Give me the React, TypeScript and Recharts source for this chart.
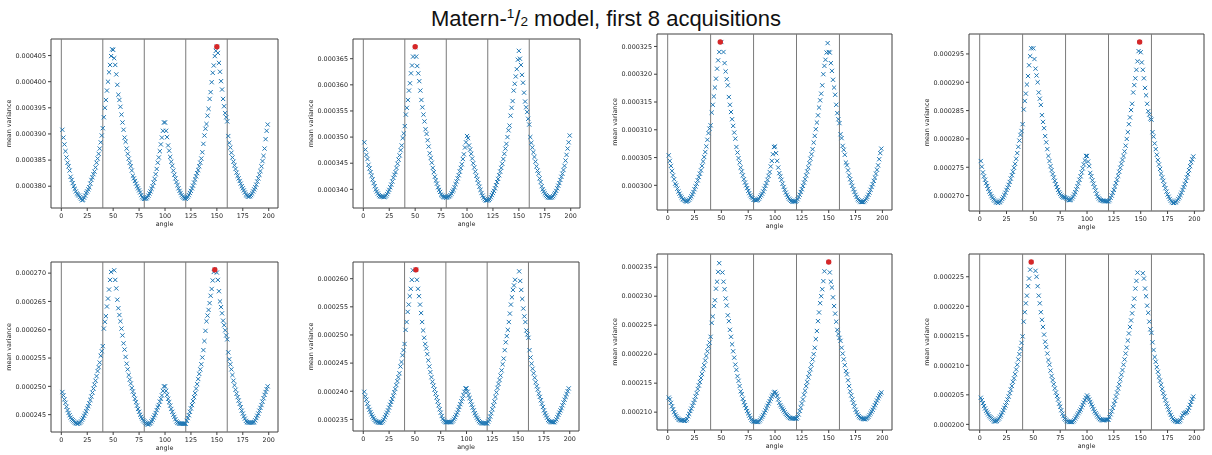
import { ScatterChart, Scatter, XAxis, YAxis, ReferenceLine, ReferenceArea } from 'recharts'

// angle grid shared by all eight panels
const ANGLES = [
  1, 2, 3, 4, 5, 6, 7, 8, 9, 10, 11, 12, 13, 14, 15, 16, 17, 18, 19, 20,
  21, 22, 23, 24, 25, 26, 27, 28, 29, 30, 31, 32, 33, 34, 35, 36, 37, 38, 39, 40,
  41, 42, 43, 44, 45, 46, 47, 48, 49, 50, 51, 52, 53, 54, 55, 56, 57, 58, 59, 60,
  61, 62, 63, 64, 65, 66, 67, 68, 69, 70, 71, 72, 73, 74, 75, 76, 77, 78, 79, 80,
  81, 82, 83, 84, 85, 86, 87, 88, 89, 90, 91, 92, 93, 94, 95, 96, 97, 98, 99, 100,
  101, 102, 103, 104, 105, 106, 107, 108, 109, 110, 111, 112, 113, 114, 115, 116, 117, 118, 119, 120,
  121, 122, 123, 124, 125, 126, 127, 128, 129, 130, 131, 132, 133, 134, 135, 136, 137, 138, 139, 140,
  141, 142, 143, 144, 145, 146, 147, 148, 149, 150, 151, 152, 153, 154, 155, 156, 157, 158, 159, 160,
  161, 162, 163, 164, 165, 166, 167, 168, 169, 170, 171, 172, 173, 174, 175, 176, 177, 178, 179, 180,
  181, 182, 183, 184, 185, 186, 187, 188, 189, 190, 191, 192, 193, 194, 195, 196, 197, 198, 199,
]

// mean variance, in units of 1e-7 (null = no marker visible at that angle)
const VAR_1 = [
  3908, 3893, 3880, 3867, 3855, 3845, 3838, 3830, 3818, 3812, 3806, 3800, 3795, 3790, 3786, 3784, 3782, 3779, 3776, 3773,
  3774, 3778, 3782, 3787, 3790, 3794, 3798, 3805, 3812, 3817, 3823, 3828, 3836, 3845, 3853, 3862, 3872, 3884, 3897, 3911,
  3932, 3950, 3965, 3983, 4000, 4018, 4032, 4049, 4062, 4061, 4045, 4032, 4014, 3994, 3975, 3965, 3952, 3937, 3922, 3908,
  3893, 3885, 3872, 3862, 3853, 3845, 3838, 3830, 3820, 3815, 3810, 3805, 3800, 3796, 3792, 3788, 3783, 3779, 3777, 3776,
  3776, 3777, 3779, 3782, 3786, 3790, 3795, 3800, 3807, 3814, 3823, 3833, 3845, 3855, 3867, 3880, 3893, 3906, 3922, 3922,
  3906, 3894, 3878, 3868, 3856, 3847, 3839, 3830, 3822, 3815, 3808, 3802, 3796, 3791, 3787, 3783, 3780, 3778, 3777, 3776,
  3778, 3780, 3783, 3787, 3791, 3796, 3801, 3807, 3813, 3819, 3825, 3831, 3838, 3845, 3853, 3865, 3881, 3897, 3910, 3919,
  3935, 3948, 3967, 3980, 3999, 4017, 4031, 4049, 4059, 4067, 4055, 4036, 4019, 4001, 3985, 3967, 3953, 3940, 3932, 3924,
  3896, 3883, 3874, 3864, 3855, 3847, 3840, 3833, 3826, 3820, 3815, 3810, 3805, 3800, 3796, 3792, 3788, 3784, 3782, 3780,
  3780, 3781, 3783, 3786, 3790, 3794, 3798, 3803, 3809, 3815, 3822, 3829, 3838, 3848, 3858, 3872, 3890, 3906, 3918,
]
const VAR_2 = [
  3490, 3476, 3466, 3458, 3447, 3440, 3433, 3426, 3419, 3412, 3406, 3400, 3396, 3392, 3389, 3387, 3386, 3386, 3386, 3385,
  3386, 3388, 3391, 3395, 3399, 3404, 3409, 3415, 3422, 3428, 3433, 3441, 3449, 3457, 3465, 3475, 3484, 3498, 3507, 3521,
  3543, 3556, 3571, 3589, 3603, 3622, 3637, 3654, null, 3672, 3654, 3636, 3622, 3607, 3589, 3571, 3557, 3543, 3530, 3515,
  3506, 3494, 3482, 3469, 3460, 3451, 3441, 3433, 3424, 3417, 3411, 3404, 3399, 3395, 3390, 3388, 3386, 3385, 3385, 3384,
  3385, 3386, 3387, 3389, 3392, 3396, 3399, 3404, 3410, 3415, 3421, 3427, 3434, 3441, 3448, 3458, 3467, 3480, 3490, 3502,
  3498, 3484, 3476, 3468, 3459, 3450, 3442, 3434, 3426, 3419, 3412, 3405, 3399, 3393, 3388, 3384, 3381, 3379, 3379, 3379,
  3380, 3382, 3385, 3389, 3393, 3397, 3402, 3408, 3414, 3420, 3427, 3434, 3441, 3449, 3458, 3468, 3478, 3487, 3500, 3513,
  3522, 3541, 3556, 3569, 3589, 3602, 3616, 3630, 3648, 3665, 3650, 3638, 3619, 3604, 3585, 3568, 3557, 3548, 3535, 3524,
  3500, 3489, 3480, 3471, 3462, 3453, 3444, 3436, 3430, 3421, 3414, 3406, 3400, 3396, 3392, 3389, 3387, 3385, 3384, 3384,
  3384, 3385, 3387, 3390, 3393, 3397, 3402, 3407, 3412, 3418, 3424, 3430, 3437, 3445, 3455, 3466, 3478, 3490, 3503,
]
const VAR_3 = [
  3054, 3044, 3035, 3026, 3018, 3011, 3003, 3000, 2994, 2989, 2985, 2981, 2978, 2975, 2974, 2972, 2971, 2971, 2972, 2974,
  2977, 2980, 2984, 2988, 2993, 2998, 3003, 3009, 3015, 3021, 3027, 3035, 3043, 3051, 3060, 3070, 3082, 3094, 3102, 3108,
  3131, 3145, 3160, 3176, 3192, 3210, 3225, 3240, null, 3258, null, 3240, 3220, 3205, 3191, 3180, 3159, 3145, 3132, 3119,
  3107, 3095, 3084, 3069, 3059, 3049, 3041, 3032, 3025, 3018, 3011, 3005, 3000, 2995, 2990, 2986, 2982, 2979, 2977, 2974,
  2974, 2973, 2973, 2974, 2976, 2979, 2982, 2985, 2989, 2994, 2999, 3004, 3010, 3017, 3024, 3034, 3044, 3056, 3069, 3070,
  3058, 3044, 3032, 3022, 3016, 3010, 3003, 2997, 2992, 2987, 2983, 2979, 2976, 2974, 2972, 2971, 2971, 2971, 2971, 2972,
  2975, 2979, 2983, 2988, 2993, 2999, 3005, 3011, 3018, 3025, 3032, 3040, 3048, 3056, 3065, 3077, 3089, 3101, 3113, 3126,
  3140, 3153, 3165, 3180, 3200, 3215, 3226, 3239, 3256, 3240, 3239, 3220, 3206, 3190, 3176, 3163, 3145, 3130, 3119, 3112,
  3092, 3085, 3071, 3064, 3055, 3041, 3036, 3027, 3018, 3011, 3005, 2999, 2993, 2988, 2983, 2979, 2975, 2973, 2971, 2970,
  2970, 2970, 2971, 2973, 2976, 2979, 2983, 2987, 2992, 2997, 3002, 3008, 3014, 3021, 3028, 3036, 3047, 3058, 3066,
]
const VAR_4 = [
  2761, 2751, 2741, 2734, 2728, 2722, 2717, 2712, 2707, 2703, 2699, 2696, 2693, 2691, 2689, 2688, 2687, 2688, 2689, 2691,
  2694, 2697, 2701, 2705, 2710, 2714, 2719, 2724, 2730, 2736, 2742, 2749, 2756, 2765, 2775, 2786, 2797, 2807, 2814, 2826,
  2852, 2867, 2880, 2896, 2911, 2930, 2946, 2960, null, 2960, 2941, 2924, 2912, 2900, 2882, 2871, 2860, 2842, 2830, 2819,
  2805, 2794, 2782, 2770, 2761, 2752, 2745, 2738, 2732, 2726, 2720, 2715, 2710, 2706, 2703, 2700, 2698, 2697, 2697, 2696,
  2695, 2693, 2692, 2692, 2693, 2695, 2698, 2702, 2706, 2711, 2716, 2722, 2728, 2734, 2741, 2748, 2755, 2762, 2770, 2770,
  2760, 2752, 2740, 2734, 2727, 2721, 2715, 2709, 2703, 2698, 2695, 2693, 2692, 2691, 2691, 2690, 2690, 2690, 2690, 2690,
  2692, 2696, 2700, 2705, 2710, 2716, 2722, 2728, 2735, 2742, 2749, 2756, 2763, 2770, 2778, 2788, 2800, 2812, 2826, 2838,
  2851, 2862, 2882, 2895, 2907, 2922, 2937, 2955, 2971, 2953, 2935, 2922, 2907, 2890, 2877, 2862, 2849, 2843, 2836, 2834,
  2812, 2804, 2792, 2782, 2772, 2763, 2755, 2747, 2739, 2732, 2726, 2719, 2713, 2707, 2702, 2698, 2694, 2691, 2689, 2687,
  2687, 2688, 2689, 2691, 2694, 2697, 2701, 2705, 2710, 2715, 2720, 2726, 2732, 2738, 2745, 2752, 2759, 2764, 2769,
]
const VAR_5 = [
  2490, 2484, 2477, 2471, 2464, 2458, 2453, 2449, 2445, 2442, 2440, 2438, 2436, 2435, 2434, 2434, 2435, 2436, 2438, 2441,
  2444, 2448, 2452, 2456, 2461, 2465, 2470, 2476, 2482, 2489, 2496, 2503, 2510, 2518, 2527, 2534, 2542, 2554, 2562, 2571,
  2602, 2614, 2624, 2641, 2655, 2671, 2688, 2702, null, null, 2705, 2688, 2673, 2653, 2638, 2626, 2615, 2602, 2590, 2576,
  2565, 2552, 2540, 2530, 2520, 2512, 2505, 2497, 2491, 2485, 2478, 2472, 2466, 2460, 2455, 2450, 2446, 2443, 2440, 2438,
  2436, 2434, 2433, 2433, 2434, 2435, 2438, 2441, 2445, 2449, 2453, 2458, 2463, 2467, 2473, 2478, 2484, 2492, 2500, 2500,
  2492, 2485, 2478, 2472, 2466, 2460, 2455, 2450, 2446, 2442, 2438, 2436, 2435, 2434, 2434, 2434, 2434, 2434, 2434, 2434,
  2439, 2444, 2449, 2455, 2461, 2467, 2474, 2481, 2488, 2496, 2504, 2513, 2522, 2530, 2539, 2551, 2564, 2580, 2598, 2615,
  2625, 2635, 2647, 2660, 2672, 2687, 2702, 2706, null, 2701, 2688, 2668, 2650, 2640, 2629, 2616, 2608, 2599, 2590, 2583,
  2560, 2548, 2539, 2530, 2520, 2510, 2502, 2494, 2487, 2481, 2475, 2469, 2463, 2457, 2452, 2447, 2443, 2439, 2437, 2436,
  2436, 2436, 2436, 2436, 2436, 2437, 2440, 2444, 2448, 2452, 2457, 2462, 2467, 2473, 2479, 2485, 2490, 2495, 2500,
]
const VAR_6 = [
  2399, 2391, 2385, 2378, 2372, 2367, 2363, 2359, 2355, 2352, 2349, 2347, 2346, 2345, 2344, 2344, 2344, 2345, 2347, 2350,
  2354, 2358, 2362, 2366, 2371, 2376, 2381, 2386, 2392, 2398, 2404, 2411, 2418, 2425, 2432, 2444, 2452, 2464, 2473, 2484,
  2509, 2523, 2541, 2554, 2569, 2582, 2598, 2615, null, null, 2616, 2598, 2582, 2569, 2554, 2539, 2523, 2508, 2495, 2484,
  2476, 2466, 2455, 2444, 2434, 2425, 2417, 2410, 2403, 2396, 2389, 2382, 2375, 2368, 2362, 2356, 2351, 2348, 2346, 2345,
  2345, 2345, 2345, 2345, 2345, 2346, 2348, 2351, 2354, 2358, 2362, 2367, 2372, 2377, 2382, 2387, 2393, 2399, 2405, 2405,
  2399, 2393, 2388, 2382, 2376, 2371, 2366, 2361, 2357, 2353, 2350, 2347, 2345, 2344, 2343, 2343, 2343, 2343, 2343, 2343,
  2346, 2350, 2355, 2361, 2368, 2375, 2382, 2390, 2398, 2406, 2413, 2420, 2428, 2437, 2448, 2458, 2473, 2487, 2498, 2509,
  2523, 2538, 2554, 2567, 2580, 2588, 2598, null, null, null, 2613, 2596, 2580, 2564, 2547, 2533, 2523, 2508, 2501, 2495,
  2473, 2460, 2449, 2440, 2432, 2424, 2416, 2409, 2403, 2396, 2390, 2384, 2378, 2372, 2366, 2361, 2357, 2353, 2349, 2347,
  2346, 2345, 2345, 2345, 2345, 2347, 2350, 2354, 2358, 2362, 2366, 2370, 2375, 2380, 2385, 2390, 2395, 2400, 2405,
]
const VAR_7 = [
  2125, 2122, 2116, 2110, 2105, 2100, 2096, 2093, 2090, 2088, 2087, 2086, 2086, 2086, 2085, 2085, 2086, 2088, 2093, 2097,
  2102, 2106, 2111, 2116, 2121, 2127, 2133, 2140, 2146, 2152, 2159, 2166, 2174, 2181, 2189, 2197, 2205, 2213, 2220, 2230,
  2254, 2265, 2283, 2293, 2313, 2325, 2342, 2357, null, null, 2341, 2325, 2312, 2296, 2284, 2267, 2257, 2242, 2230, 2217,
  2205, 2194, 2182, 2173, 2162, 2154, 2145, 2136, 2131, 2123, 2117, 2112, 2107, 2102, 2098, 2094, 2090, 2087, 2085, 2084,
  2084, 2083, 2083, 2083, 2084, 2086, 2089, 2092, 2095, 2099, 2103, 2107, 2111, 2115, 2119, 2123, 2127, 2130, 2134, 2135,
  2132, 2128, 2122, 2116, 2112, 2109, 2106, 2103, 2100, 2097, 2095, 2093, 2091, 2090, 2089, 2089, 2089, 2089, 2089, 2089,
  2091, 2096, 2102, 2108, 2115, 2122, 2130, 2137, 2145, 2152, 2160, 2167, 2174, 2182, 2191, 2200, 2211, 2226, 2240, 2257,
  2272, 2288, 2300, 2312, 2326, 2343, null, null, null, 2359, 2341, 2325, 2315, 2298, 2283, 2270, 2256, 2242, 2235, 2228,
  2223, 2211, 2201, 2191, 2181, 2171, 2165, 2155, 2145, 2136, 2129, 2122, 2116, 2110, 2104, 2100, 2096, 2093, 2091, 2090,
  2089, 2088, 2088, 2088, 2089, 2090, 2092, 2095, 2098, 2101, 2104, 2108, 2112, 2116, 2120, 2124, 2128, 2131, 2134,
]
const VAR_8 = [
  2045, 2041, 2036, 2031, 2027, 2023, 2020, 2017, 2014, 2012, 2010, 2008, 2006, 2005, 2005, 2006, 2008, 2010, 2013, 2016,
  2020, 2024, 2028, 2032, 2037, 2042, 2047, 2053, 2059, 2065, 2072, 2078, 2085, 2093, 2101, 2110, 2119, 2128, 2138, 2149,
  2174, 2190, 2205, 2218, 2234, 2247, 2262, 2275, null, null, null, 2260, 2250, 2234, 2218, 2205, 2190, 2177, 2165, 2152,
  2140, 2131, 2120, 2109, 2101, 2091, 2082, 2075, 2068, 2061, 2054, 2048, 2042, 2035, 2030, 2024, 2018, 2014, 2010, 2008,
  2006, 2005, 2004, 2004, 2004, 2004, 2005, 2007, 2010, 2013, 2016, 2019, 2022, 2025, 2029, 2033, 2037, 2041, 2045, 2049,
  2046, 2042, 2038, 2034, 2030, 2026, 2022, 2019, 2016, 2013, 2011, 2009, 2008, 2007, 2007, 2007, 2008, 2008, 2008, 2008,
  2012, 2017, 2022, 2028, 2034, 2040, 2047, 2054, 2061, 2068, 2076, 2084, 2092, 2101, 2110, 2120, 2130, 2142, 2154, 2165,
  2176, 2188, 2200, 2213, 2230, 2243, 2257, null, null, null, null, 2256, 2247, 2230, 2217, 2201, 2189, 2174, 2161, 2155,
  2139, 2126, 2114, 2106, 2097, 2089, 2081, 2074, 2067, 2060, 2053, 2047, 2041, 2035, 2030, 2025, 2020, 2016, 2012, 2009,
  2007, 2006, 2005, 2004, 2004, 2005, 2007, 2011, 2015, 2018, 2019, 2020, 2021, 2024, 2028, 2033, 2038, 2043, 2047,
]

// next acquisition (red dot): [angle, value]
const PEAKS = [[150, 4067], [50, 3673], [49, 3258], [149, 2971], [148, 2706], [51, 2616], [150, 2359], [48, 2275]]

const Y_TICKS = [
  [3800, 3850, 3900, 3950, 4000, 4050],
  [3400, 3450, 3500, 3550, 3600, 3650],
  [3000, 3050, 3100, 3150, 3200, 3250],
  [2700, 2750, 2800, 2850, 2900, 2950],
  [2450, 2500, 2550, 2600, 2650, 2700],
  [2350, 2400, 2450, 2500, 2550, 2600],
  [2100, 2150, 2200, 2250, 2300, 2350],
  [2000, 2050, 2100, 2150, 2200, 2250],
]
const X_TICKS = [0, 25, 50, 75, 100, 125, 150, 175, 200]
const SEGMENT_LINES = [0, 40, 80, 120, 160]
const X_DOMAIN = [-9.95, 208.95]

const SERIES = [VAR_1, VAR_2, VAR_3, VAR_4, VAR_5, VAR_6, VAR_7, VAR_8]

// plot-area boxes on the page
const BOXES = [
  { left: 51, top: 39, width: 227, height: 169 },
  { left: 353, top: 39, width: 227, height: 169 },
  { left: 657, top: 34, width: 235, height: 176 },
  { left: 969, top: 34, width: 235, height: 177 },
  { left: 51, top: 262, width: 227, height: 170 },
  { left: 353, top: 262, width: 226, height: 169 },
  { left: 657, top: 254, width: 235, height: 176 },
  { left: 969, top: 254, width: 235, height: 176 },
]

const Y_W = 50
const X_H = 22
const PAD = 3
const FONT = 'DejaVu Sans'
const TEXT = '#262626'
const EDGE = '#404040'

const XMark = (p: any) => {
  const r = 2.1
  const { cx, cy } = p
  return (
    <path
      d={`M${cx - r},${cy - r}L${cx + r},${cy + r}M${cx - r},${cy + r}L${cx + r},${cy - r}`}
      stroke="#1f77b4"
      strokeWidth={1}
      fill="none"
    />
  )
}

const RedDot = (p: any) => <circle cx={p.cx} cy={p.cy} r={2.7} fill="#d62728" />

function Panel({ idx }: { idx: number }) {
  const box = BOXES[idx]
  const values = SERIES[idx]
  const peak = PEAKS[idx]
  const data = ANGLES.map((a, i) => ({ a, v: values[i] })).filter((d) => d.v !== null)
  const shown = data.map((d) => d.v as number)
  const lo = Math.min(...shown, peak[1])
  const hi = Math.max(...shown, peak[1])
  const m = (hi - lo) * 0.05
  const yDomain = [lo - m, hi + m]
  const tickStyle = { fontSize: 6.4, fill: TEXT, fontFamily: FONT }

  return (
    <div style={{ position: 'absolute', left: box.left - Y_W, top: box.top - PAD, willChange: 'transform' }}>
      <ScatterChart
        width={box.width + Y_W + PAD}
        height={box.height + PAD + X_H}
        margin={{ top: PAD, right: PAD, bottom: 0, left: 0 }}
      >
        <XAxis
          type="number"
          dataKey="a"
          domain={X_DOMAIN}
          allowDataOverflow
          ticks={X_TICKS}
          height={X_H}
          axisLine={false}
          tickLine={{ stroke: EDGE }}
          tickSize={3}
          tickMargin={2}
          tick={tickStyle}
          label={{ value: 'angle', position: 'insideBottom', offset: 4, fill: TEXT, style: tickStyle }}
        />
        <YAxis
          type="number"
          dataKey="v"
          domain={yDomain}
          allowDataOverflow
          ticks={Y_TICKS[idx]}
          width={Y_W}
          axisLine={false}
          tickLine={{ stroke: EDGE }}
          tickSize={3}
          tickMargin={2}
          tick={tickStyle}
          tickFormatter={(v: number) => (v / 1e7).toFixed(6)}
          label={{
            value: 'mean variance',
            angle: -90,
            position: 'insideLeft',
            offset: 8,
            fill: TEXT,
            style: { ...tickStyle, textAnchor: 'middle' },
          }}
        />
        {SEGMENT_LINES.map((x) => (
          <ReferenceLine key={x} x={x} stroke="#7a7a7a" strokeWidth={1} />
        ))}
        <Scatter data={data} shape={XMark} isAnimationActive={false} />
        <Scatter data={[{ a: peak[0], v: peak[1] }]} shape={RedDot} isAnimationActive={false} />
        <ReferenceArea
          x1={X_DOMAIN[0]}
          x2={X_DOMAIN[1]}
          y1={yDomain[0]}
          y2={yDomain[1]}
          fill="none"
          stroke={EDGE}
          strokeWidth={1}
        />
      </ScatterChart>
    </div>
  )
}

export default function App() {
  return (
    <div
      style={{
        position: 'absolute',
        left: 0,
        top: 0,
        width: 1212,
        height: 455,
        background: '#fff',
        overflow: 'hidden',
      }}
    >
      <div
        style={{
          position: 'absolute',
          left: 0,
          top: 3,
          width: 1212,
          textAlign: 'center',
          fontFamily: 'Liberation Sans',
          fontSize: 22,
          lineHeight: '22px',
          color: '#111',
        }}
      >
        Matern-
        <span style={{ fontSize: '0.62em', verticalAlign: '0.55em' }}>1</span>/
        <span style={{ fontSize: '0.62em', verticalAlign: '-0.05em' }}>2</span> model, first 8 acquisitions
      </div>
      {SERIES.map((_, i) => (
        <Panel key={i} idx={i} />
      ))}
    </div>
  )
}
